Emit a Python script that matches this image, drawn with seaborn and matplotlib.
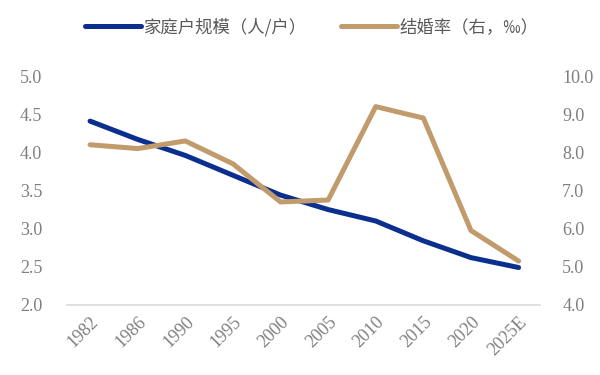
from matplotlib import pyplot as plt
from matplotlib import ticker as ticker
from matplotlib.lines import Line2D
import pandas as pd
import seaborn as sns

sns.set_style('white')

years = ['1982', '1986', '1990', '1995', '2000', '2005', '2010', '2015', '2020', '2025E']
household_size = [4.41, 4.17, 3.96, 3.70, 3.44, 3.25, 3.10, 2.84, 2.62, 2.49]
marriage_rate = [8.2, 8.1, 8.3, 7.7, 6.7, 6.75, 9.2, 8.9, 5.95, 5.15]

blue = '#0b2f8f'
tan = '#c19b6c'
grey = '#7f7f7f'
num_font = 'Liberation Serif'
cjk_font = ['Noto Sans CJK SC', 'DejaVu Sans']

df = pd.DataFrame({'idx': range(len(years)), 'year': years,
                   'size': household_size, 'rate': marriage_rate})

fig, ax = plt.subplots(figsize=(6, 3.75), dpi=100)
fig.subplots_adjust(left=0.112, right=0.9, top=0.797, bottom=0.187)
ax2 = ax.twinx()

sns.lineplot(x='idx', y='size', data=df, ax=ax, color=blue, lw=3.6, zorder=3)
sns.lineplot(x='idx', y='rate', data=df, ax=ax2, color=tan, lw=3.6, zorder=3)

ax.set_xlim(-0.48, 9.45)
ax.set_ylim(2.0, 5.0)
ax2.set_ylim(4.0, 10.0)
ax.yaxis.set_major_locator(ticker.MultipleLocator(0.5))
ax2.yaxis.set_major_locator(ticker.MultipleLocator(1.0))
ax.yaxis.set_major_formatter(ticker.FormatStrFormatter('%.1f'))
ax2.yaxis.set_major_formatter(ticker.FormatStrFormatter('%.1f'))
ax.set_xticks(df['idx'])
ax.set_xticklabels(years, rotation=45, ha='right', rotation_mode='anchor')

for a in (ax, ax2):
    a.set_xlabel('')
    a.set_ylabel('')
    for s in a.spines.values():
        s.set_visible(False)
    a.tick_params(length=0, colors=grey, labelsize=13)
    for lab in a.get_xticklabels() + a.get_yticklabels():
        lab.set_fontfamily(num_font)
ax.spines['bottom'].set_visible(True)
ax.spines['bottom'].set_color('#d9d9d9')
ax.spines['bottom'].set_linewidth(1.2)
ax.tick_params(axis='y', pad=18)
ax.tick_params(axis='x', pad=6)
ax2.tick_params(axis='y', pad=16)

handles = [Line2D([], [], color=blue, lw=3.6), Line2D([], [], color=tan, lw=3.6)]
labels = ['家庭户规模（人/户）', '结婚率（右，‰）']
fig.legend(handles, labels, loc='center', bbox_to_anchor=(0.52, 0.928), ncol=2,
           frameon=False, prop={'family': cjk_font, 'size': 12.5},
           handlelength=3.2, handletextpad=0.15, columnspacing=2.0, labelcolor='#595959')

fig.savefig('out.png', dpi=100)
